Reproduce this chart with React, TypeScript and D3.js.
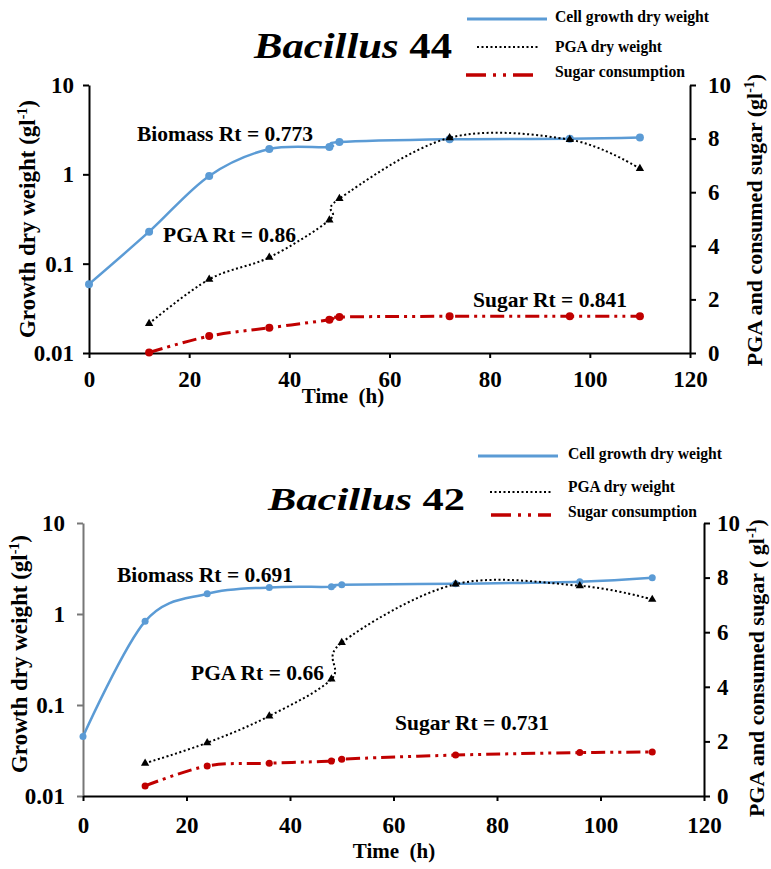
import React, { useRef, useEffect } from "react";
import * as d3 from "d3";

// sampling times (h)
const hours = [0, 12, 24, 36, 48, 50, 72, 96, 110];
const sampleHours = [12, 24, 36, 48, 50, 72, 96, 110];

// Bacillus 44
const biomass44 = [0.059, 0.228, 0.96, 1.92, 2.02, 2.3, 2.47, 2.5, 2.58];
const pga44 = [1.1, 2.75, 3.57, 4.96, 5.76, 8.03, 7.96, 6.88];
const sugar44 = [0.02, 0.63, 0.94, 1.24, 1.34, 1.37, 1.37, 1.37];
const rt44 = ["Biomass Rt = 0.773", "PGA Rt = 0.86", "Sugar Rt = 0.841"];

// Bacillus 42
const biomass42 = [0.045, 0.83, 1.67, 1.96, 1.99, 2.09, 2.15, 2.26, 2.5];
const pga42 = [1.2, 1.95, 2.93, 4.28, 5.62, 7.76, 7.7, 7.2];
const sugar42 = [0.37, 1.1, 1.2, 1.28, 1.35, 1.5, 1.59, 1.61];
const rt42 = ["Biomass Rt = 0.691", "PGA Rt = 0.66", "Sugar Rt = 0.731"];

const xTicks = [0, 20, 40, 60, 80, 100, 120];
const logTicks = [0.01, 0.1, 1, 10];
const rightTicks = [0, 2, 4, 6, 8, 10];
const legendLabels = ["Cell growth dry weight", "PGA dry weight", "Sugar consumption"];

const BLUE = "#5b9bd5";
const RED = "#c00000";
const FONT = "'Liberation Serif', 'Times New Roman', serif";

const panels = [
  {
    name: "44", biomass: biomass44, pga: pga44, sugar: sugar44, rt: rt44,
    x0: 89, x1: 690, yTop: 85, yBot: 353, leftAxisColor: "#000",
    xPad: 13, lPad: 9, rPad: 12,
    title: { x: 254, y: 58, len: 198, size: 36 },
    legend: { lx: [467, 477, 466], lx2: [547, 540, 537], tx: 555, ys: [19, 47, 75], tys: [22, 52, 77], lens: [154, 107, 130] },
    notes: [[137, 141], [163, 242], [473, 307]],
    leftTitle: { x: 35, y: 219 }, rightTitle: { x: 762, y: 220, text: "PGA and consumed sugar (gl" },
    xTitle: { x: 343, y: 403 }, r: 4,
  },
  {
    name: "42", biomass: biomass42, pga: pga42, sugar: sugar42, rt: rt42,
    x0: 83, x1: 704, yTop: 523, yBot: 796, leftAxisColor: "#777",
    xPad: 16, lPad: 12, rPad: 7,
    title: { x: 268, y: 510, len: 197, size: 32 },
    legend: { lx: [478, 490, 491], lx2: [558, 553, 551], tx: 568, ys: [456, 492, 515], tys: [459, 492, 517], lens: [154, 107, 129] },
    notes: [[117, 582], [191, 680], [395, 730]],
    leftTitle: { x: 27, y: 654 }, rightTitle: { x: 764, y: 668, text: "PGA and consumed sugar ( gl" },
    xTitle: { x: 394, y: 858 }, r: 3.5,
  },
];

function drawPanel(svg, p) {
  const g = svg.append("g");
  const x = d3.scaleLinear().domain([0, 120]).range([p.x0, p.x1]);
  const yL = d3.scaleLog().domain([0.01, 10]).range([p.yBot, p.yTop]);
  const yR = d3.scaleLinear().domain([0, 10]).range([p.yBot, p.yTop]);

  const styleAxis = (a, color) => {
    a.select(".domain").attr("stroke", color).attr("stroke-width", 2);
    a.selectAll(".tick line").attr("stroke", color).attr("stroke-width", 2);
    a.selectAll(".tick text").attr("fill", "#000").style("font-family", FONT)
      .style("font-size", "23px").style("font-weight", "bold");
  };

  const ax = g.append("g").attr("transform", `translate(0,${p.yBot})`)
    .call(d3.axisBottom(x).tickValues(xTicks).tickSize(5).tickSizeOuter(0).tickPadding(p.xPad));
  styleAxis(ax, "#000");

  const al = g.append("g").attr("transform", `translate(${p.x0},0)`)
    .call(d3.axisLeft(yL).tickValues(logTicks).tickFormat(d => String(d)).tickSize(6).tickSizeOuter(0).tickPadding(p.lPad));
  styleAxis(al, p.leftAxisColor);

  const ar = g.append("g").attr("transform", `translate(${p.x1},0)`)
    .call(d3.axisRight(yR).tickValues(rightTicks).tickSize(6).tickSizeOuter(0).tickPadding(p.rPad));
  styleAxis(ar, "#000");

  ax.raise();

  const curve = d3.curveCatmullRom.alpha(0);

  // biomass (left, log)
  const bio = hours.map((h, i) => [h, p.biomass[i]]);
  g.append("path").datum(bio)
    .attr("d", d3.line().x(d => x(d[0])).y(d => yL(d[1])).curve(curve))
    .attr("fill", "none").attr("stroke", BLUE).attr("stroke-width", 2.5);
  g.append("g").selectAll("circle").data(bio).enter().append("circle")
    .attr("cx", d => x(d[0])).attr("cy", d => yL(d[1])).attr("r", p.r).attr("fill", BLUE);

  // pga (right)
  const pga = sampleHours.map((h, i) => [h, p.pga[i]]);
  g.append("path").datum(pga)
    .attr("d", d3.line().x(d => x(d[0])).y(d => yR(d[1])).curve(curve))
    .attr("fill", "none").attr("stroke", "#000").attr("stroke-width", 2)
    .attr("stroke-dasharray", "2,2.5");
  g.append("g").selectAll("path").data(pga).enter().append("path")
    .attr("transform", d => `translate(${x(d[0])},${yR(d[1])})`)
    .attr("d", d3.symbol(d3.symbolTriangle, 30)()).attr("fill", "#000");

  // sugar (right)
  const sug = sampleHours.map((h, i) => [h, p.sugar[i]]);
  g.append("path").datum(sug)
    .attr("d", d3.line().x(d => x(d[0])).y(d => yR(d[1])).curve(curve))
    .attr("fill", "none").attr("stroke", RED).attr("stroke-width", 3)
    .attr("stroke-dasharray", "14,5,3,5,3,5");
  g.append("g").selectAll("circle").data(sug).enter().append("circle")
    .attr("cx", d => x(d[0])).attr("cy", d => yR(d[1])).attr("r", p.r).attr("fill", RED);

  // Rt notes
  p.rt.forEach((t, i) => {
    g.append("text").attr("x", p.notes[i][0]).attr("y", p.notes[i][1])
      .style("font-family", FONT).style("font-size", "21.5px").style("font-weight", "bold")
      .text(t);
  });

  // title
  const tt = g.append("text").attr("x", p.title.x).attr("y", p.title.y)
    .attr("textLength", p.title.len).attr("lengthAdjust", "spacingAndGlyphs")
    .style("font-family", FONT).style("font-size", p.title.size + "px").style("font-weight", "bold");
  tt.append("tspan").style("font-style", "italic").text("Bacillus");
  tt.append("tspan").text(" " + p.name);

  // legend
  const lg = p.legend;
  const dashes = [null, "2,2.5", "20,7,3,7,3,7"];
  const colors = [BLUE, "#000", RED];
  const widths = [3, 2, 3.5];
  legendLabels.forEach((lab, i) => {
    g.append("line").attr("x1", lg.lx[i]).attr("x2", lg.lx2[i])
      .attr("y1", lg.ys[i]).attr("y2", lg.ys[i])
      .attr("stroke", colors[i]).attr("stroke-width", widths[i])
      .attr("stroke-dasharray", dashes[i]);
    g.append("text").attr("x", lg.tx).attr("y", lg.tys[i])
      .attr("textLength", lg.lens[i]).attr("lengthAdjust", "spacingAndGlyphs")
      .style("font-family", FONT).style("font-size", "17px").style("font-weight", "bold")
      .text(lab);
  });

  // axis titles
  const lt = g.append("text")
    .attr("transform", `translate(${p.leftTitle.x},${p.leftTitle.y}) rotate(-90)`)
    .attr("text-anchor", "middle")
    .style("font-family", FONT).style("font-size", "23px").style("font-weight", "bold");
  lt.append("tspan").text("Growth dry weight (gl");
  lt.append("tspan").attr("dy", -8).style("font-size", "14px").text("-1");
  lt.append("tspan").attr("dy", 8).text(")");

  const rtT = g.append("text")
    .attr("transform", `translate(${p.rightTitle.x},${p.rightTitle.y}) rotate(-90)`)
    .attr("text-anchor", "middle")
    .style("font-family", FONT).style("font-size", "22px").style("font-weight", "bold");
  rtT.append("tspan").text(p.rightTitle.text);
  rtT.append("tspan").attr("dy", -8).style("font-size", "14px").text("-1");
  rtT.append("tspan").attr("dy", 8).text(")");

  g.append("text").attr("x", p.xTitle.x).attr("y", p.xTitle.y).attr("text-anchor", "middle")
    .style("font-family", FONT).style("font-size", "21px").style("font-weight", "bold")
    .style("white-space", "pre")
    .text("Time  (h)");
}

export default function App() {
  const ref = useRef(null);

  useEffect(() => {
    const svg = d3.select(ref.current);
    svg.selectAll("*").remove();
    panels.forEach(p => drawPanel(svg, p));
  }, []);

  return (
    <svg ref={ref} width={771} height={869}
      style={{ position: "absolute", left: 0, top: 0, background: "#fff" }} />
  );
}
